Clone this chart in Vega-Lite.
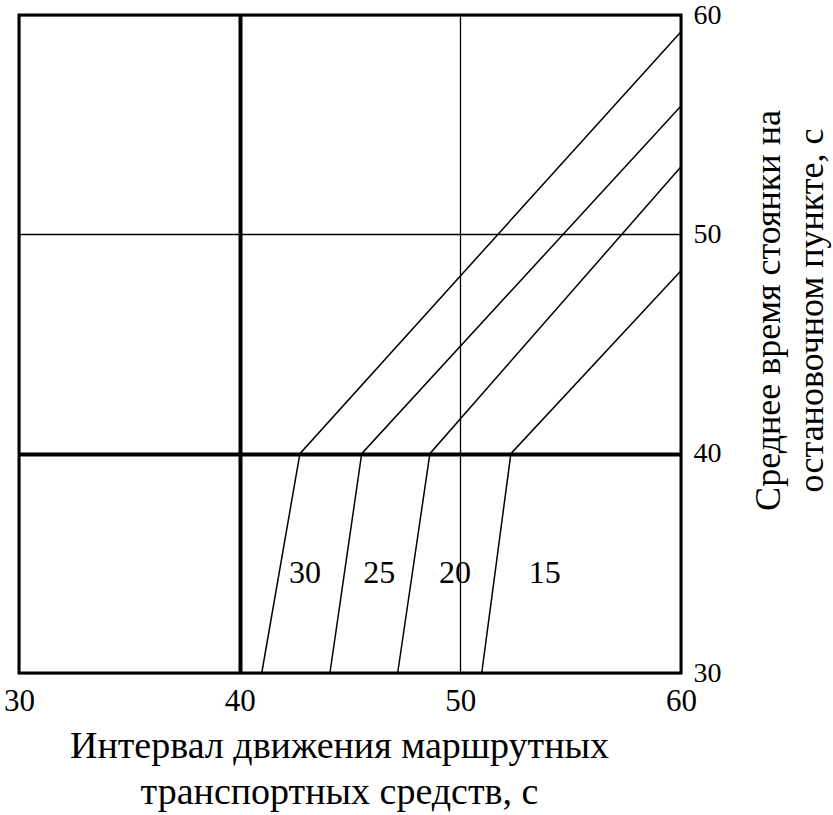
{
  "$schema": "https://vega.github.io/schema/vega-lite/v6.json",
  "width": 662,
  "height": 658,
  "autosize": {"type": "none"},
  "padding": {"left": 19, "top": 15, "right": 152, "bottom": 142},
  "background": "white",
  "config": {
    "view": {"stroke": "black", "strokeWidth": 3},
    "font": "Liberation Serif"
  },
  "datasets": {
    "curves": [
      {"series": "30", "x": 41.0, "y": 30},
      {"series": "30", "x": 42.73, "y": 40},
      {"series": "30", "x": 60, "y": 59.24},
      {"series": "25", "x": 44.09, "y": 30},
      {"series": "25", "x": 45.53, "y": 40},
      {"series": "25", "x": 60, "y": 55.85},
      {"series": "20", "x": 47.16, "y": 30},
      {"series": "20", "x": 48.62, "y": 40},
      {"series": "20", "x": 60, "y": 53.08},
      {"series": "15", "x": 50.97, "y": 30},
      {"series": "15", "x": 52.29, "y": 40},
      {"series": "15", "x": 60, "y": 48.34}
    ],
    "labels": [
      {"label": "30", "x": 42.96, "y": 34.55},
      {"label": "25", "x": 46.33, "y": 34.55},
      {"label": "20", "x": 49.76, "y": 34.55},
      {"label": "15", "x": 53.83, "y": 34.55}
    ]
  },
  "layer": [
    {
      "data": {"name": "curves"},
      "mark": {"type": "line", "color": "black", "strokeWidth": 1.5},
      "encoding": {
        "x": {
          "field": "x", "type": "quantitative",
          "scale": {"domain": [30, 60], "nice": false, "zero": false},
          "axis": {
            "values": [30, 40, 50, 60],
            "title": ["Интервал движения маршрутных", "транспортных средств, с"],
            "domain": false, "ticks": false,
            "grid": true, "gridColor": "black",
            "gridWidth": {"condition": {"test": "datum.value == 40", "value": 4}, "value": 1.3},
            "labelFont": "Liberation Serif", "labelFontSize": 31, "labelColor": "black",
            "labelPadding": 13, "labelFlush": false, "labelOverlap": false,
            "titleFont": "Liberation Serif", "titleFontSize": 38, "titleFontWeight": "normal", "titleColor": "black",
            "titleLineHeight": 46, "titleAnchor": null,
            "titleX": 320, "titleY": 73, "titleAlign": "center", "titleBaseline": "middle"
          }
        },
        "y": {
          "field": "y", "type": "quantitative",
          "scale": {"domain": [30, 60], "nice": false, "zero": false},
          "axis": {
            "orient": "right",
            "values": [30, 40, 50, 60],
            "title": ["Среднее время стоянки на", "остановочном пункте, с"],
            "domain": false, "ticks": false,
            "grid": true, "gridColor": "black",
            "gridWidth": {"condition": {"test": "datum.value == 40", "value": 4}, "value": 1.3},
            "labelFont": "Liberation Serif", "labelFontSize": 28, "labelColor": "black",
            "labelPadding": 12, "labelFlush": false, "labelOverlap": false,
            "titleFont": "Liberation Serif", "titleFontSize": 36, "titleFontWeight": "normal", "titleColor": "black",
            "titleLineHeight": 43, "titleAngle": 270,
            "titleX": 87, "titleY": 295, "titleAlign": "center", "titleBaseline": "middle"
          }
        },
        "detail": {"field": "series"},
        "order": {"field": "y", "type": "quantitative"}
      }
    },
    {
      "data": {"name": "labels"},
      "mark": {"type": "text", "font": "Liberation Serif", "fontSize": 32, "color": "black", "align": "center", "baseline": "middle"},
      "encoding": {
        "x": {"field": "x", "type": "quantitative"},
        "y": {"field": "y", "type": "quantitative"},
        "text": {"field": "label"}
      }
    }
  ]
}
